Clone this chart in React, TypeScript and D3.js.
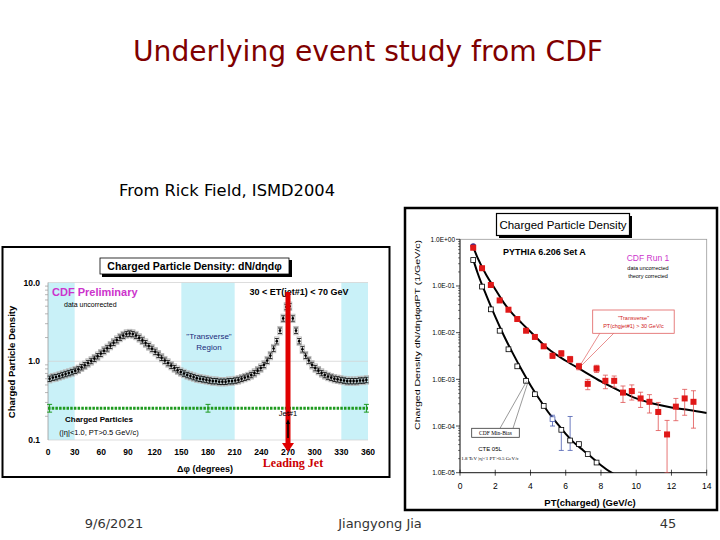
import React from 'react';
import * as d3 from 'd3';

// ---------------- Left chart data (dN/dηdφ vs Δφ, 3.6° bins) ----------------
const PHI_BIN = 3.6;
const densityValues = [
  0.60, 0.62, 0.63, 0.65, 0.67, 0.69, 0.71, 0.73,
  0.76, 0.79, 0.84, 0.89, 0.95, 1.01, 1.08, 1.16, 1.25, 1.36, 1.46, 1.58, 1.72, 1.86, 2.00, 2.12, 2.22,
  2.25, 2.22, 2.12, 1.98, 1.84, 1.70, 1.56, 1.44, 1.32, 1.21, 1.11, 1.02, 0.95, 0.88, 0.82, 0.77, 0.73,
  0.70, 0.67, 0.65, 0.63, 0.61, 0.60, 0.59, 0.58, 0.57, 0.56, 0.56, 0.55, 0.55, 0.55, 0.56, 0.56, 0.57,
  0.58, 0.60, 0.62, 0.64, 0.67, 0.71, 0.76, 0.82, 0.90, 1.02, 1.18, 1.45, 1.80, 2.45, 3.5, 4.9, 5.0,
  3.5, 2.45, 1.80, 1.42, 1.18, 1.02, 0.90, 0.82, 0.76, 0.71, 0.67, 0.64, 0.62, 0.60, 0.59, 0.58, 0.57,
  0.56, 0.56, 0.56, 0.56, 0.57, 0.57, 0.58,
];
const densityErrFrac = 0.08;
const greenLevel = 0.253;
const greenErrPhi = [1.8, 180, 358.2];
const phiTicks = [0, 30, 60, 90, 120, 150, 180, 210, 240, 270, 300, 330, 360];
const leftYTicks = [0.1, 1, 10];
const leftYTickLabels = ['0.1', '1.0', '10.0'];
const transverseBands: [number, number][] = [[0, 30], [150, 210], [330, 360]];
const leadingJetPhi = 270;

// ---------------- Right chart data (dN/dηdφdPT vs PT) ----------------
const ptBins = [0.75, 1.25, 1.75, 2.25, 2.75, 3.25, 3.75, 4.25, 4.75, 5.25, 5.75, 6.25, 6.75,
  7.25, 7.75, 8.25, 8.75, 9.25, 9.75, 10.25, 10.75, 11.25, 11.75, 12.25, 12.75, 13.25];
const transverseVals = [0.66, 0.24, 0.105, 0.049, 0.031, 0.0196, 0.011, 0.0081, 0.0051, 0.0032,
  0.0036, 0.0027, 0.0019, 0.00080, 0.0017, 0.00093, 0.00093, 0.00052, 0.00056, 0.00039, 0.00033,
  0.00020, 0.000066, 0.00026, 0.00039, 0.00033];
const transverseErr = [0.03, 0.01, 0.005, 0.0025, 0.0015, 0.001, 0.0006, 0.0005, 0.0003, 0.0004,
  0.0005, 0.0004, 0.0003, 0.0002, 0.0003, 0.0003, 0.00025, 0.0002, 0.0002, 0.00014, 0.00014,
  0.00012, 0.000066, 0.00013, 0.00022, 0.00024];
const minBiasPt = [0.75, 1.25, 1.75, 2.25, 2.75, 3.25, 3.75, 4.25, 4.75, 5.25, 5.75, 6.25, 6.75, 7.25, 7.75];
const minBiasVals = [0.36, 0.097, 0.0316, 0.011, 0.0044, 0.0019, 0.00093, 0.00048, 0.00027, 0.00014,
  0.000083, 0.000049, 0.000041, 0.000025, 0.0000165];
const minBiasErrPt = [5.25, 5.75, 6.25];
const minBiasErrLo = [0.0001, 0.00003, 0.00003];
const minBiasErrHi = [0.00017, 0.000083, 0.00016];
const pythiaTransPt = [0.75, 1, 1.5, 2, 2.5, 3, 3.5, 4, 5, 6, 7, 8, 9, 10, 11, 12, 13, 14];
const pythiaTransVals = [0.68, 0.40, 0.17, 0.085, 0.043, 0.025, 0.016, 0.0105, 0.0045, 0.0025,
  0.0015, 0.0009, 0.00058, 0.00039, 0.0003, 0.00025, 0.00022, 0.00019];
const pythiaMbPt = [0.75, 1, 1.5, 2, 2.5, 3, 3.5, 4, 4.5, 5, 5.5, 6, 6.5, 7, 7.5, 8, 8.6, 9];
const pythiaMbVals = [0.37, 0.19, 0.062, 0.022, 0.0085, 0.0036, 0.0016, 0.00075, 0.00038, 0.0002,
  0.000115, 0.000068, 0.000043, 0.00003, 0.000021, 0.0000145, 0.00001, 0.0000082];
const rightYTicks = [1, 0.1, 0.01, 0.001, 0.0001, 0.00001];
const rightYTickLabels = ['1.0E+00', '1.0E-01', '1.0E-02', '1.0E-03', '1.0E-04', '1.0E-05'];
const ptTicks = [0, 2, 4, 6, 8, 10, 12, 14];

const ARIAL = 'Liberation Sans, Arial, sans-serif';

function minorLogTicks(lo: number, hi: number) {
  const out: number[] = [];
  for (let dec = lo; dec < hi * 0.999; dec *= 10) {
    for (let m = 2; m <= 9; m++) out.push(dec * m);
  }
  return out;
}

function LeftChart() {
  const x = d3.scaleLinear().domain([0, 360]).range([48, 368]);
  const y = d3.scaleLog().domain([0.1, 10]).range([440, 282.5]);
  const phis = densityValues.map((_, i) => PHI_BIN / 2 + i * PHI_BIN);
  const greenLine = d3.line<number>().x((p) => x(p)).y(() => y(greenLevel));
  return (
    <g>
      <rect x={2.5} y={247} width={387} height={230} fill="white" stroke="black" strokeWidth={2} />
      {transverseBands.map(([a, b], i) => (
        <rect key={i} x={x(a)} y={y(10)} width={x(b) - x(a)} height={y(0.1) - y(10)} fill="#c9f1f8" />
      ))}
      {leftYTicks.map((t) => (
        <line key={t} x1={x(0)} x2={x(360)} y1={y(t)} y2={y(t)} stroke="#d4d4d4" strokeWidth={0.8} />
      ))}
      <line x1={x(0)} x2={x(0)} y1={y(10)} y2={y(0.1)} stroke="#999" strokeWidth={0.8} />
      {minorLogTicks(0.1, 10).map((t) => (
        <line key={t} x1={x(0) - 3} x2={x(0)} y1={y(t)} y2={y(t)} stroke="#999" strokeWidth={0.7} />
      ))}
      {leftYTicks.map((t, i) => (
        <text key={t} x={40} y={y(t) + 3} textAnchor="end" fontFamily={ARIAL} fontWeight="bold" fontSize={8.5}>
          {leftYTickLabels[i]}
        </text>
      ))}
      {phiTicks.map((t) => (
        <text key={t} x={x(t)} y={455} textAnchor="middle" fontFamily={ARIAL} fontWeight="bold" fontSize={8.5}>
          {t}
        </text>
      ))}
      <text x={205} y={472} textAnchor="middle" fontFamily={ARIAL} fontWeight="bold" fontSize={9}>
        Δφ  (degrees)
      </text>
      <text transform={`translate(15,362) rotate(-90)`} textAnchor="middle" fontFamily={ARIAL} fontWeight="bold" fontSize={9.5}>
        Charged Particle Density
      </text>
      {/* grey systematic band */}
      {phis.map((p, i) => (
        <rect key={'g' + i} x={x(p) - 2.2} y={y(densityValues[i] * 1.13)} width={4.4}
          height={y(densityValues[i] / 1.13) - y(densityValues[i] * 1.13)} fill="none" stroke="#b8b8b8" strokeWidth={0.9} />
      ))}
      {/* error bars */}
      {phis.map((p, i) => {
        const v = densityValues[i];
        const hi = y(v * (1 + densityErrFrac));
        const lo = y(v * (1 - densityErrFrac));
        return (
          <g key={'e' + i} stroke="black" strokeWidth={0.8}>
            <line x1={x(p)} x2={x(p)} y1={hi} y2={lo} />
            <line x1={x(p) - 2} x2={x(p) + 2} y1={hi} y2={hi} />
            <line x1={x(p) - 2} x2={x(p) + 2} y1={lo} y2={lo} />
          </g>
        );
      })}
      {phis.map((p, i) => (
        <circle key={'p' + i} cx={x(p)} cy={y(densityValues[i])} r={1.3} fill="black" />
      ))}
      {/* green dotted line */}
      <path d={greenLine([0, 360]) || ''} stroke="#1f9a1f" strokeWidth={3} strokeDasharray="2.5,1.2" fill="none" />
      {greenErrPhi.map((p) => (
        <g key={p} stroke="#1f9a1f" strokeWidth={1}>
          <line x1={x(p)} x2={x(p)} y1={y(greenLevel * 1.12)} y2={y(greenLevel / 1.12)} />
          <line x1={x(p) - 2.5} x2={x(p) + 2.5} y1={y(greenLevel * 1.12)} y2={y(greenLevel * 1.12)} />
          <line x1={x(p) - 2.5} x2={x(p) + 2.5} y1={y(greenLevel / 1.12)} y2={y(greenLevel / 1.12)} />
        </g>
      ))}
      {/* title box */}
      <rect x={102} y={260} width={190} height={17} fill="black" />
      <rect x={100} y={258} width={189} height={16} fill="white" stroke="black" strokeWidth={0.8} />
      <text x={194.5} y={270} textAnchor="middle" fontFamily={ARIAL} fontWeight="bold" fontSize={10.5}>
        Charged Particle Density: dN/dηdφ
      </text>
      <text x={52} y={296} fontFamily={ARIAL} fontWeight="bold" fontSize={11} fill="#cc33cc">CDF Preliminary</text>
      <text x={64} y={307} fontFamily={ARIAL} fontSize={7}>data uncorrected</text>
      <text x={299} y={295} textAnchor="middle" fontFamily={ARIAL} fontWeight="bold" fontSize={9}>
        30 &lt; ET(jet#1) &lt; 70 GeV
      </text>
      <text x={209} y={339} textAnchor="middle" fontFamily={ARIAL} fontSize={8} fill="#1a2a7a">"Transverse"</text>
      <text x={209} y={350} textAnchor="middle" fontFamily={ARIAL} fontSize={8} fill="#1a2a7a">Region</text>
      <text x={99} y={422} textAnchor="middle" fontFamily={ARIAL} fontWeight="bold" fontSize={8}>Charged Particles</text>
      <text x={99} y={435} textAnchor="middle" fontFamily={ARIAL} fontSize={7.5}>(|η|&lt;1.0, PT&gt;0.5 GeV/c)</text>
      {/* leading jet arrow */}
      <rect x={x(leadingJetPhi) - 2.5} y={292} width={5} height={152} fill="#e00000" />
      <path d={`M${x(leadingJetPhi) - 6},443 L${x(leadingJetPhi) + 6},443 L${x(leadingJetPhi)},452 Z`} fill="#e00000" />
      <text x={x(leadingJetPhi)} y={416} textAnchor="middle" fontFamily={ARIAL} fontSize={7.5}>Jet#1</text>
      <line x1={x(leadingJetPhi)} x2={x(leadingJetPhi)} y1={438} y2={423} stroke="black" strokeWidth={1.5} />
      <path d={`M${x(leadingJetPhi) - 2},424 L${x(leadingJetPhi) + 2},424 L${x(leadingJetPhi)},419 Z`} fill="black" />
      <text x={x(leadingJetPhi) + 5} y={467} textAnchor="middle" fontFamily="Liberation Serif, serif" fontWeight="bold" fontSize={12} fill="#cc0000">
        Leading Jet
      </text>
    </g>
  );
}

function RightChart() {
  const x = d3.scaleLinear().domain([0, 14]).range([460, 706.7]);
  const y = d3.scaleLog().domain([1e-5, 1]).range([472.7, 239.3]);
  const curve = d3.line<[number, number]>().x((d) => x(d[0])).y((d) => y(d[1])).curve(d3.curveMonotoneX);
  const transPts = pythiaTransPt.map((p, i) => [p, pythiaTransVals[i]] as [number, number]);
  const mbPts = pythiaMbPt.map((p, i) => [p, pythiaMbVals[i]] as [number, number]);
  const clamp = (v: number) => Math.max(v, 1e-5);
  return (
    <g>
      <rect x={405} y={208} width={312} height={302} fill="white" stroke="black" strokeWidth={2.5} />
      <defs>
        <clipPath id="rclip">
          <rect x={x(0)} y={y(1)} width={x(14) - x(0)} height={y(1e-5) - y(1)} />
        </clipPath>
      </defs>
      <rect x={x(0)} y={y(1)} width={x(14) - x(0)} height={y(1e-5) - y(1)} fill="white" stroke="#9a9a9a" strokeWidth={0.8} />
      <line x1={x(0)} x2={x(0)} y1={y(1)} y2={y(1e-5)} stroke="black" strokeWidth={0.8} />
      <line x1={x(0)} x2={x(14)} y1={y(1e-5)} y2={y(1e-5)} stroke="black" strokeWidth={0.8} />
      {minorLogTicks(1e-5, 1).map((t, i) => (
        <line key={i} x1={x(0) - 2} x2={x(0)} y1={y(t)} y2={y(t)} stroke="black" strokeWidth={0.5} />
      ))}
      {rightYTicks.map((t, i) => (
        <g key={t}>
          <line x1={x(0) - 4} x2={x(0)} y1={y(t)} y2={y(t)} stroke="black" strokeWidth={0.7} />
          <text x={455} y={y(t) + 2.5} textAnchor="end" fontFamily={ARIAL} fontSize={6.5}>{rightYTickLabels[i]}</text>
        </g>
      ))}
      {ptTicks.map((t) => (
        <g key={t}>
          <line x1={x(t)} x2={x(t)} y1={y(1e-5) - 3} y2={y(1e-5) + 3} stroke="black" strokeWidth={0.7} />
          <text x={x(t)} y={489} textAnchor="middle" fontFamily={ARIAL} fontSize={8.5}>{t}</text>
        </g>
      ))}
      <text x={590} y={506} textAnchor="middle" fontFamily={ARIAL} fontWeight="bold" fontSize={9.5}>
        PT(charged)  (GeV/c)
      </text>
      <text transform="translate(420,335) rotate(-90)" textAnchor="middle" fontFamily={ARIAL} fontSize={7.5}
        textLength={190} lengthAdjust="spacingAndGlyphs">
        Charged Density dN/dηdφdPT (1/GeV/c)
      </text>
      {/* title box */}
      <rect x={499} y={216} width={133} height={22} fill="black" />
      <rect x={496.5} y={213.5} width={133} height={22} fill="white" stroke="black" strokeWidth={1.2} />
      <text x={563} y={229} textAnchor="middle" fontFamily={ARIAL} fontSize={11.5}>Charged Particle Density</text>
      <text x={503} y={255} fontFamily={ARIAL} fontWeight="bold" fontSize={9}>PYTHIA 6.206 Set A</text>
      <text x={648} y={261} textAnchor="middle" fontFamily={ARIAL} fontSize={8.5} fill="#cc33cc">CDF Run 1</text>
      <text x={648} y={270} textAnchor="middle" fontFamily={ARIAL} fontSize={5.5}>data uncorrected</text>
      <text x={648} y={278} textAnchor="middle" fontFamily={ARIAL} fontSize={5.5}>theory corrected</text>
      <g clipPath="url(#rclip)">
        <path d={curve(transPts) || ''} fill="none" stroke="black" strokeWidth={2} />
        <path d={curve(mbPts) || ''} fill="none" stroke="black" strokeWidth={2} />
        {ptBins.map((p, i) => {
          const v = transverseVals[i];
          const e = transverseErr[i];
          const hi = y(v + e);
          const lo = y(clamp(v - e));
          return (
            <g key={'te' + i} stroke="#e05050" strokeWidth={0.8}>
              <line x1={x(p)} x2={x(p)} y1={hi} y2={lo} />
              <line x1={x(p) - 2.5} x2={x(p) + 2.5} y1={hi} y2={hi} />
              <line x1={x(p) - 2.5} x2={x(p) + 2.5} y1={lo} y2={lo} />
            </g>
          );
        })}
        {minBiasErrPt.map((p, i) => (
          <g key={'me' + i} stroke="#4a5db0" strokeWidth={0.8}>
            <line x1={x(p)} x2={x(p)} y1={y(minBiasErrHi[i])} y2={y(minBiasErrLo[i])} />
            <line x1={x(p) - 2.5} x2={x(p) + 2.5} y1={y(minBiasErrHi[i])} y2={y(minBiasErrHi[i])} />
            <line x1={x(p) - 2.5} x2={x(p) + 2.5} y1={y(minBiasErrLo[i])} y2={y(minBiasErrLo[i])} />
          </g>
        ))}
      </g>
      <circle cx={x(ptBins[0])} cy={y(0.72)} r={2.8} fill="#3a2a8a" />
      {ptBins.map((p, i) => (
        <rect key={'tp' + i} x={x(p) - 3} y={y(transverseVals[i]) - 3} width={6} height={6} fill="#e01818" />
      ))}
      {minBiasPt.map((p, i) => (
        <rect key={'mp' + i} x={x(p) - 2.4} y={y(minBiasVals[i]) - 2.4} width={4.8} height={4.8}
          fill="white" stroke={p === 5.25 ? '#4a5db0' : 'black'} strokeWidth={0.8} />
      ))}
      {/* transverse callout */}
      <g stroke="#e06060" strokeWidth={0.7}>
        <line x1={600} y1={333} x2={581} y2={364} />
        <line x1={614} y1={333} x2={582} y2={365} />
      </g>
      <rect x={592.7} y={310} width={81.5} height={23.3} fill="white" stroke="#e06060" strokeWidth={0.8} />
      <text x={633.5} y={319.5} textAnchor="middle" fontFamily={ARIAL} fontSize={5.5} fill="#d02020">"Transverse"</text>
      <text x={633.5} y={328} textAnchor="middle" fontFamily={ARIAL} fontSize={5.5} fill="#d02020">PT(chgjet#1) &gt; 30 GeV/c</text>
      {/* min-bias callout */}
      <g stroke="#555" strokeWidth={0.6}>
        <line x1={500} y1={428.3} x2={526.5} y2={381.5} />
        <line x1={513} y1={428.3} x2={528} y2={382} />
      </g>
      <rect x={471.7} y={428.3} width={47.6} height={9} fill="white" stroke="#333" strokeWidth={0.8} />
      <text x={495.5} y={435} textAnchor="middle" fontFamily="Liberation Serif, serif" fontSize={5.5}>CDF Min-Bias</text>
      <text x={490} y={451} textAnchor="middle" fontFamily={ARIAL} fontSize={6}>CTE 05L</text>
      <text x={490} y={460} textAnchor="middle" fontFamily="Liberation Serif, serif" fontSize={5}>1.8 TeV |η|&lt;1 PT&gt;0.5 GeV/c</text>
    </g>
  );
}

export default function App() {
  return (
    <svg width={720} height={540} style={{ position: 'absolute', left: 0, top: 0, background: 'white' }}>
      <rect x={0} y={0} width={720} height={540} fill="white" />
      <text x={368} y={61} textAnchor="middle" fontFamily="DejaVu Sans, sans-serif" fontSize={28}
        fill="#800000" textLength={470} lengthAdjust="spacingAndGlyphs">
        Underlying event study from CDF
      </text>
      <text x={119} y={196} fontFamily="DejaVu Sans, sans-serif" fontSize={15.5} fill="black"
        textLength={216} lengthAdjust="spacingAndGlyphs">
        From Rick Field, ISMD2004
      </text>
      <LeftChart />
      <RightChart />
      <text x={114} y={528} textAnchor="middle" fontFamily="DejaVu Sans, sans-serif" fontSize={13} fill="#333">9/6/2021</text>
      <text x={380} y={528} textAnchor="middle" fontFamily="DejaVu Sans, sans-serif" fontSize={13} fill="#333">Jiangyong Jia</text>
      <text x={668} y={528} textAnchor="middle" fontFamily="DejaVu Sans, sans-serif" fontSize={13} fill="#333">45</text>
    </svg>
  );
}
